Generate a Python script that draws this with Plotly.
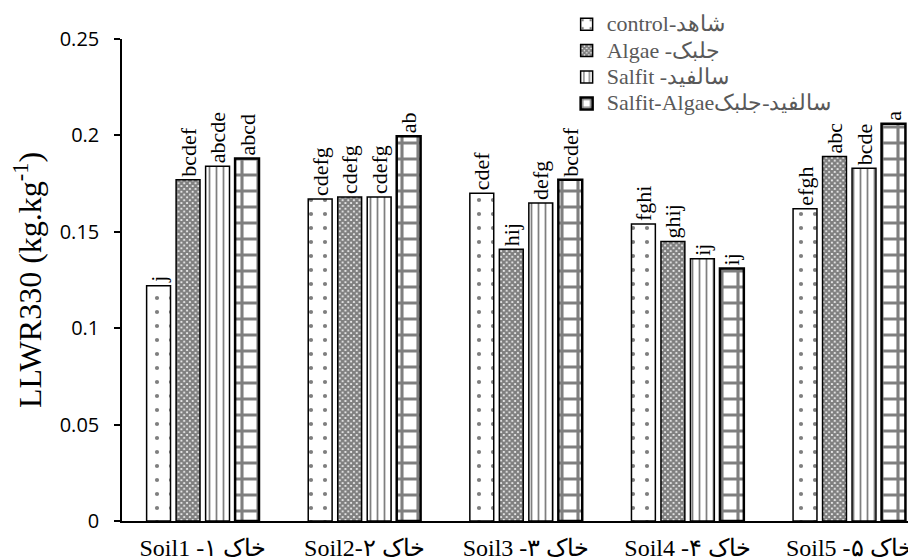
import plotly.graph_objects as go

categories = ["Soil1 -۱ خاک", "Soil2-۲ خاک", "Soil3 -۳ خاک", "Soil4 -۴ خاک", "Soil5 -۵ خاک"]
series_names = ["control-شاهد", "Algae -جلبک", "Salfit -سالفید", "Salfit-Algaeسالفید-جلبک"]
control = [0.122, 0.167, 0.170, 0.154, 0.162]
algae = [0.177, 0.168, 0.141, 0.145, 0.189]
salfit = [0.184, 0.168, 0.165, 0.136, 0.183]
salfit_algae = [0.188, 0.1995, 0.177, 0.131, 0.206]
letters_control = ["j", "cdefg", "cdef", "fghi", "efgh"]
letters_algae = ["bcdef", "cdefg", "hij", "ghij", "abc"]
letters_salfit = ["abcde", "cdefg", "defg", "ij", "bcde"]
letters_sa = ["abcd", "ab", "bcdef", "ij", "a"]
y_ticks = [0, 0.05, 0.1, 0.15, 0.2, 0.25]
y_tick_text = ["0", "0.05", "0.1", "0.15", "0.2", "0.25"]

serif = "Liberation Serif"

styles = [
    dict(shape=".", size=14, solidity=0.07, lw=1.5),
    dict(shape="x", size=4, solidity=0.8, lw=1.5),
    dict(shape="|", size=7, solidity=0.25, lw=1.5),
    dict(shape="+", size=16, solidity=0.35, lw=2.5),
]
values = [control, algae, salfit, salfit_algae]
letters = [letters_control, letters_algae, letters_salfit, letters_sa]

fig = go.Figure()
for name, vals, txt, st in zip(series_names, values, letters, styles):
    fig.add_trace(go.Bar(
        x=categories, y=vals,
        name='<span style="font-family:\'Liberation Serif\';font-size:22px">' + name + "</span>",
        text=txt, textposition="outside", textangle=-90,
        constraintext="none", cliponaxis=False,
        textfont=dict(family=serif, size=22, color="black"),
        outsidetextfont=dict(family=serif, size=22, color="black"),
        marker=dict(
            color="white",
            line=dict(color="black", width=st["lw"]),
            pattern=dict(shape=st["shape"], size=st["size"], solidity=st["solidity"],
                         fgcolor="black", bgcolor="white", fillmode="overlay"),
        ),
    ))

# page body adds an 8px offset; plot area: x 114..908, y 31..513 (figure coords)
plot_h = 559 - 0 - 46
fig.update_layout(
    width=916, height=559,
    margin=dict(l=114, r=8, t=0, b=46, autoexpand=False),
    paper_bgcolor="white", plot_bgcolor="white",
    font=dict(family=serif, color="black"),
    barmode="group", bargap=0.27, bargroupgap=0.19,
    showlegend=True,
    legend=dict(
        x=0.56, y=(513 + 2) / plot_h, xanchor="left", yanchor="top",
        font=dict(family=serif, size=18, color="#595959"),
        bgcolor="rgba(0,0,0,0)", itemwidth=30, tracegroupgap=0,
    ),
    xaxis=dict(
        range=[-0.5, 4.413],
        showline=True, linecolor="black", linewidth=1.5,
        ticks="", showgrid=False,
        tickfont=dict(family=serif, size=24, color="black"),
        ticklabelstandoff=4,
    ),
    yaxis=dict(
        domain=[0, 482 / plot_h],
        range=[0, 0.25],
        tickvals=y_ticks, ticktext=y_tick_text,
        showline=True, linecolor="black", linewidth=1.5,
        ticks="outside", ticklen=6, tickcolor="black", tickwidth=1.5,
        showgrid=False, zeroline=False,
        tickfont=dict(family="Open Sans", size=20, color="black"),
        ticklabelstandoff=11,
        title=dict(text="LLWR330 (kg.kg<sup>-1</sup>)",
                   font=dict(family=serif, size=32, color="black"), standoff=10),
    ),
)

fig.write_html("out.html")
